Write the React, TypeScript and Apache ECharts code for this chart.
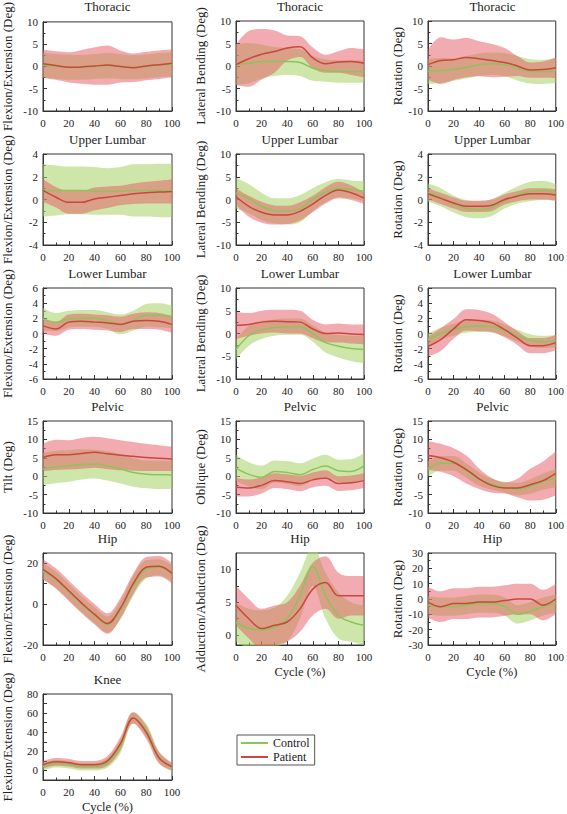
import { useEffect, useRef } from 'react';
import * as echarts from 'echarts';

// ---------- data (gait cycle %, mean and SD) ----------
const cycle = [0, 10, 20, 30, 40, 50, 60, 70, 80, 90, 100];

const thorFE_cMean = [0.3, 0, -0.2, -0.2, 0, 0.2, 0, -0.2, 0, 0.3, 0.5];
const thorFE_cSD = [2.8, 2.8, 2.8, 2.8, 2.8, 2.9, 2.8, 2.7, 2.7, 2.7, 2.7];
const thorFE_pMean = [0.6, 0.2, -0.2, -0.1, 0.1, 0.3, 0, -0.3, 0.1, 0.4, 0.7];
const thorFE_pSD = [3.2, 3.2, 3.4, 3.8, 4.2, 4.4, 3.6, 3.2, 3.2, 3.2, 3.1];

const thorLB_cMean = [0.3, 0.6, 1, 1, 1, 0.8, -0.5, -1, -1.2, -1.2, -1.2];
const thorLB_cSD = [4.5, 4.5, 3.8, 3.2, 3, 3, 2.8, 2.5, 2.5, 2.5, 2.5];
const thorLB_pMean = [0.3, 1.6, 2.6, 3.2, 4.0, 4.3, 1.8, 0.5, 0.9, 1, 0.6];
const thorLB_pSD = [4.5, 6.2, 5.6, 4.7, 2.8, 2.3, 2.3, 2.0, 2.4, 3, 3.1];

const thorRot_cMean = [-1.2, -1, -0.8, -0.3, 0.3, 0.5, 0.3, -0.5, -1.2, -1.3, -1];
const thorRot_cSD = [2.8, 2.8, 2.5, 2.5, 2.5, 2.5, 2.6, 2.7, 2.7, 2.7, 2.8];
const thorRot_pMean = [0.3, 1.2, 1.4, 1.9, 1.6, 1.2, 0.8, 0, -0.9, -0.8, -0.4];
const thorRot_pSD = [3.3, 5.2, 4.5, 4.4, 3.9, 3.7, 3.2, 2.2, 1.7, 1.8, 2.3];

const ulFE_cMean = [0.8, 0.8, 0.8, 0.8, 0.75, 0.7, 0.75, 0.8, 0.8, 0.8, 0.8];
const ulFE_cSD = [2.3, 2.2, 2.1, 2.1, 2.1, 2.05, 2.1, 2.3, 2.3, 2.35, 2.35];
const ulFE_pMean = [0.8, 0.2, -0.25, -0.25, 0.05, 0.2, 0.35, 0.5, 0.6, 0.65, 0.7];
const ulFE_pSD = [1.0, 0.9, 1.0, 1.0, 1.0, 0.95, 0.85, 0.9, 0.95, 1.0, 1.05];

const ulLB_cMean = [1.4, 0.2, -1.5, -2.5, -2.6, -2, 0, 1.6, 2.5, 2.2, 1.8];
const ulLB_cSD = [3.4, 3.2, 3, 2.8, 2.9, 3, 2.5, 2.2, 2, 2, 2.2];
const ulLB_pMean = [0.6, -1.5, -2.8, -3.4, -3.4, -2.6, -1, 0.9, 2.1, 1.5, 0.3];
const ulLB_pSD = [1.8, 2.3, 2.3, 2.1, 2, 2, 1.8, 1.8, 1.8, 1.6, 1.3];

const ulRot_cMean = [0.6, 0.2, -0.4, -0.8, -0.9, -0.7, -0.1, 0.4, 0.7, 0.8, 0.6];
const ulRot_cSD = [0.8, 0.8, 0.75, 0.75, 0.75, 0.75, 0.7, 0.75, 0.85, 0.85, 0.75];
const ulRot_pMean = [0.5, 0.1, -0.3, -0.6, -0.6, -0.5, 0, 0.3, 0.5, 0.5, 0.4];
const ulRot_pSD = [0.5, 0.5, 0.5, 0.5, 0.5, 0.5, 0.45, 0.45, 0.5, 0.5, 0.5];

const llFE_cMean = [1.9, 1.5, 1.9, 2, 2, 1.7, 1.2, 1.7, 2.4, 2.4, 2.2];
const llFE_cSD = [1.5, 1.2, 1.1, 1.1, 1.1, 1.1, 1.3, 1.3, 1.5, 1.6, 1.5];
const llFE_pMean = [1, 0.6, 1.5, 1.6, 1.5, 1.4, 1.2, 1.6, 1.7, 1.6, 1.2];
const llFE_pSD = [1, 0.9, 1, 1, 1, 1, 1, 1, 1.1, 1.1, 1.1];

const llLB_cMean = [-3.5, -0.5, 0.8, 1.3, 1.5, 1.5, 0, -2, -2.8, -3.3, -3.5];
const llLB_cSD = [2.2, 2.2, 2, 1.8, 1.8, 1.8, 1.8, 2.2, 2.5, 2.8, 3];
const llLB_pMean = [1.8, 2, 2.5, 2.7, 2.6, 2.5, 1, 0, 0.1, -0.1, -0.2];
const llLB_pSD = [3, 2.5, 2.5, 2.5, 2.6, 2.5, 2, 2, 2.1, 2.1, 2.2];

const llRot_cMean = [-0.8, 0, 0.5, 0.9, 1, 0.9, 0.4, -0.3, -0.9, -1.1, -1];
const llRot_cSD = [0.8, 0.8, 0.8, 0.8, 0.8, 0.8, 0.8, 0.8, 0.8, 0.8, 0.8];
const llRot_pMean = [-1.7, -0.8, 0.6, 1.8, 1.7, 1.4, 0.5, -0.6, -1.6, -1.6, -1.2];
const llRot_pSD = [1.3, 1.5, 1.3, 1.4, 1.4, 1.2, 1, 0.9, 1, 1, 1];

const pTilt_cMean = [2, 2.5, 2.8, 3.2, 3.3, 2.8, 2, 1, 0.5, 0.4, 0.3];
const pTilt_cSD = [4.3, 4.4, 4.3, 4.1, 3.9, 4, 4, 3.9, 3.8, 3.9, 3.8];
const pTilt_pMean = [5.1, 5.8, 5.8, 6.2, 6.5, 6.1, 5.7, 5.4, 5.1, 4.9, 4.7];
const pTilt_pSD = [3.7, 4.1, 4, 4.2, 4.2, 4.2, 4.1, 3.9, 3.7, 3.5, 3.3];

const pObl_cMean = [2.2, 0.5, -0.3, 1.3, 1, 0.4, 1.8, 2.8, 1.5, 1.3, 2.8];
const pObl_cSD = [3.6, 3.3, 3.2, 3, 3.1, 3.1, 3, 3, 3, 3.3, 3.5];
const pObl_pMean = [-3, -3.2, -2.5, -1.2, -1.5, -2, -1, -0.5, -2, -1.8, -1.2];
const pObl_pSD = [2.5, 2.3, 2.2, 2, 2, 2.1, 2, 2.1, 2, 2, 2];

const pRot_cMean = [2, 3.5, 3.5, 1.5, -0.8, -2.2, -3, -3.5, -2.8, -1.5, -0.5];
const pRot_cSD = [2, 2, 2, 2, 1.8, 1.5, 1.5, 1.7, 2, 2.2, 2.5];
const pRot_pMean = [5.6, 5, 3.8, 1.8, -0.7, -2.5, -3.2, -3.2, -2.3, -1.2, 0.8];
const pRot_pSD = [3.9, 3.8, 3.8, 3.8, 2.8, 2, 1.5, 2.5, 4.3, 5.2, 6];

const hipFE_cMean = [16, 12, 6, 0, -5.5, -10, -3, 9, 17, 18, 15];
const hipFE_cSD = [4, 4, 4, 4, 4, 4, 4.5, 5, 4.5, 4, 4];
const hipFE_pMean = [17, 12.5, 6.5, 0.5, -5, -9.5, -2, 10, 18, 18.5, 15];
const hipFE_pSD = [5, 5, 5, 5, 5, 5, 5, 5, 5, 5, 5];

const hipAA_cMean = [2, 1, 0.8, 1.2, 2.5, 6, 10.5, 6, 3, 2, 1.5];
const hipAA_cSD = [3, 3, 3, 3, 3.5, 3.5, 3, 3.5, 3.5, 3, 3];
const hipAA_pMean = [4.5, 2.5, 1, 1.5, 2, 4, 7, 8, 6, 6, 6];
const hipAA_pSD = [3, 3, 3, 3, 3, 3.5, 4, 4, 3.5, 3, 3];

const hipRot_cMean = [-4, -5, -5, -4, -3, -3, -5, -10, -8, -5, -3];
const hipRot_cSD = [6, 6, 6, 6, 6, 6, 6, 6, 6, 6, 6];
const hipRot_pMean = [-2, -5, -3, -3, -2, -2, -1, 0, 0, -4, 0];
const hipRot_pSD = [10, 10, 10, 10, 10, 10, 10, 10, 10, 10, 10];

const knee_cMean = [4, 7, 6, 4, 4, 8, 25, 55, 42, 14, 3];
const knee_cSD = [4, 4, 4, 4, 4, 5, 7, 6, 7, 6, 4];
const knee_pMean = [6, 9, 8, 6, 6, 10, 28, 55, 40, 13, 4];
const knee_pSD = [4, 4, 4, 4, 4, 5, 7, 6, 7, 6, 4];

// tick labels for the one axis whose range is not a multiple of its step
const hipAA_labels = [0, 5, 10];
const hipAA_ticks = [0, 2.5, 5, 7.5, 10];

// ---------- layout / style ----------
const FONT = 'Liberation Serif, serif';
const C_LINE = '#8cc35a';
const P_LINE = '#c9473d';
const C_BAND = 'rgba(165,210,100,0.55)';
const P_BAND = 'rgba(230,90,100,0.5)';

const colLeft = [43, 236, 428];
const colWidth = [129, 128, 129];
const rowTop = [21, 154, 288, 421, 553, 694];
const rowHeight = [90, 91, 91, 92, 92, 89];
const yNameGap = [29, 29, 24];

type Panel = {
  title: string; yName: string; row: number; col: number;
  min: number; max: number; interval?: number; labelEvery?: number;
  labels?: number[]; ticks?: number[];
  cm: number[]; cs: number[]; pm: number[]; ps: number[]; xName?: string;
};

const FE = 'Flexion/Extension (Deg)';
const LB = 'Lateral Bending (Deg)';
const ROT = 'Rotation (Deg)';

const panels: Panel[] = [
  { title: 'Thoracic', yName: FE, row: 0, col: 0, min: -10, max: 10, interval: 5, cm: thorFE_cMean, cs: thorFE_cSD, pm: thorFE_pMean, ps: thorFE_pSD },
  { title: 'Thoracic', yName: LB, row: 0, col: 1, min: -10, max: 10, interval: 5, cm: thorLB_cMean, cs: thorLB_cSD, pm: thorLB_pMean, ps: thorLB_pSD },
  { title: 'Thoracic', yName: ROT, row: 0, col: 2, min: -10, max: 10, interval: 5, cm: thorRot_cMean, cs: thorRot_cSD, pm: thorRot_pMean, ps: thorRot_pSD },
  { title: 'Upper Lumbar', yName: FE, row: 1, col: 0, min: -4, max: 4, interval: 2, cm: ulFE_cMean, cs: ulFE_cSD, pm: ulFE_pMean, ps: ulFE_pSD },
  { title: 'Upper Lumbar', yName: LB, row: 1, col: 1, min: -10, max: 10, interval: 5, cm: ulLB_cMean, cs: ulLB_cSD, pm: ulLB_pMean, ps: ulLB_pSD },
  { title: 'Upper Lumbar', yName: ROT, row: 1, col: 2, min: -4, max: 4, interval: 2, cm: ulRot_cMean, cs: ulRot_cSD, pm: ulRot_pMean, ps: ulRot_pSD },
  { title: 'Lower Lumbar', yName: FE, row: 2, col: 0, min: -6, max: 6, interval: 2, cm: llFE_cMean, cs: llFE_cSD, pm: llFE_pMean, ps: llFE_pSD },
  { title: 'Lower Lumbar', yName: LB, row: 2, col: 1, min: -10, max: 10, interval: 5, cm: llLB_cMean, cs: llLB_cSD, pm: llLB_pMean, ps: llLB_pSD },
  { title: 'Lower Lumbar', yName: ROT, row: 2, col: 2, min: -6, max: 6, interval: 2, cm: llRot_cMean, cs: llRot_cSD, pm: llRot_pMean, ps: llRot_pSD },
  { title: 'Pelvic', yName: 'Tilt (Deg)', row: 3, col: 0, min: -10, max: 15, interval: 5, cm: pTilt_cMean, cs: pTilt_cSD, pm: pTilt_pMean, ps: pTilt_pSD },
  { title: 'Pelvic', yName: 'Oblique (Deg)', row: 3, col: 1, min: -10, max: 15, interval: 5, cm: pObl_cMean, cs: pObl_cSD, pm: pObl_pMean, ps: pObl_pSD },
  { title: 'Pelvic', yName: ROT, row: 3, col: 2, min: -10, max: 15, interval: 5, cm: pRot_cMean, cs: pRot_cSD, pm: pRot_pMean, ps: pRot_pSD },
  { title: 'Hip', yName: FE, row: 4, col: 0, min: -20, max: 25, interval: 10, labelEvery: 20, cm: hipFE_cMean, cs: hipFE_cSD, pm: hipFE_pMean, ps: hipFE_pSD },
  { title: 'Hip', yName: 'Adduction/Abduction (Deg)', row: 4, col: 1, min: -1.5, max: 12.5, labels: hipAA_labels, ticks: hipAA_ticks, cm: hipAA_cMean, cs: hipAA_cSD, pm: hipAA_pMean, ps: hipAA_pSD, xName: 'Cycle (%)' },
  { title: 'Hip', yName: ROT, row: 4, col: 2, min: -30, max: 30, interval: 10, cm: hipRot_cMean, cs: hipRot_cSD, pm: hipRot_pMean, ps: hipRot_pSD, xName: 'Cycle (%)' },
  { title: 'Knee', yName: FE, row: 5, col: 0, min: -10, max: 80, interval: 10, labelEvery: 20, cm: knee_cMean, cs: knee_cSD, pm: knee_pMean, ps: knee_pSD, xName: 'Cycle (%)' },
];

function buildOption() {
  const grid: any[] = [];
  const xAxis: any[] = [];
  const yAxis: any[] = [];
  const series: any[] = [];
  const title: any[] = [];
  const axisColor = '#333';
  const labelStyle = { fontFamily: FONT, fontSize: 11, color: '#222' };
  const cats = cycle.map(String);

  panels.forEach((p, i) => {
    const left = colLeft[p.col];
    const top = rowTop[p.row];
    const width = colWidth[p.col];
    const height = rowHeight[p.row];
    grid.push({ left, top, width, height, show: true, borderColor: axisColor, borderWidth: 1, backgroundColor: 'transparent' });
    // visible value axis (ticks + labels)
    xAxis.push({
      gridIndex: i, type: 'value', min: 0, max: 100, interval: 20, position: 'bottom',
      axisLine: { show: true, onZero: false, lineStyle: { color: axisColor } },
      axisTick: { show: true, inside: true, length: 4, lineStyle: { color: axisColor } },
      minorTick: { show: true, splitNumber: 2, length: 2.5, lineStyle: { color: axisColor } },
      axisLabel: { ...labelStyle, margin: 6 },
      splitLine: { show: false },
      name: p.xName || '', nameLocation: 'middle', nameGap: 20,
      nameTextStyle: { fontFamily: FONT, fontSize: 12.5, color: '#222' },
    });
    // hidden category axis carrying the data (same 0..100 span)
    xAxis.push({
      gridIndex: i, type: 'category', data: cats, boundaryGap: false, position: 'bottom',
      show: false, axisLine: { onZero: false },
    });
    const every = p.labelEvery;
    const custom = !!p.labels;
    yAxis.push({
      gridIndex: i, type: 'value', min: p.min, max: p.max, interval: p.interval,
      axisLine: { show: true, onZero: false, lineStyle: { color: axisColor } },
      axisTick: { show: true, inside: true, length: custom ? 3 : 4, lineStyle: { color: axisColor }, customValues: p.ticks },
      minorTick: { show: !every && !custom, splitNumber: 2, length: 2.5, lineStyle: { color: axisColor } },
      axisLabel: {
        ...labelStyle, margin: 5,
        customValues: p.labels,
        formatter: every ? (v: number) => (Math.abs(v % every) < 1e-6 ? String(v) : '') : undefined,
      },
      splitLine: { show: false },
      name: p.yName, nameLocation: 'middle', nameGap: yNameGap[p.col], nameRotate: 90,
      nameTextStyle: { fontFamily: FONT, fontSize: 13, color: '#222' },
    });
    title.push({
      text: p.title, left: left + width / 2, top: top - 21, textAlign: 'center', padding: 0,
      textStyle: { fontFamily: FONT, fontSize: 13, fontWeight: 'normal', color: '#222' },
    });

    const groups = [
      { key: 'c', mean: p.cm, sd: p.cs, band: C_BAND, line: C_LINE, name: 'Control' },
      { key: 'p', mean: p.pm, sd: p.ps, band: P_BAND, line: P_LINE, name: 'Patient' },
    ];
    groups.forEach((g) => {
      const stack = `${g.key}${i}`;
      const common = { type: 'line', xAxisIndex: 2 * i + 1, yAxisIndex: i, smooth: 0.35, symbol: 'none', silent: true };
      series.push({
        ...common, name: `${g.name} lower`, stack, stackStrategy: 'all',
        data: g.mean.map((m, k) => m - g.sd[k]),
        lineStyle: { opacity: 0 },
      });
      series.push({
        ...common, name: `${g.name} band`, stack, stackStrategy: 'all',
        data: g.sd.map((s) => 2 * s),
        lineStyle: { opacity: 0 },
        areaStyle: { color: g.band, opacity: 1 },
      });
      series.push({
        ...common, name: g.name,
        data: g.mean,
        color: g.line,
        itemStyle: { color: g.line },
        lineStyle: { color: g.line, width: 1.5 },
      });
    });
  });

  return {
    animation: false,
    backgroundColor: '#fff',
    textStyle: { fontFamily: FONT },
    title, grid, xAxis, yAxis, series,
    legend: {
      data: ['Control', 'Patient'],
      left: 237, top: 735, orient: 'vertical',
      icon: 'rect', itemWidth: 27, itemHeight: 2, itemGap: 2,
      padding: [2, 5, 2, 4],
      borderColor: '#555', borderWidth: 1,
      textStyle: { fontFamily: FONT, fontSize: 12, color: '#222' },
      selectedMode: false,
    },
  };
}

export default function App() {
  const ref = useRef<HTMLDivElement>(null);
  useEffect(() => {
    if (!ref.current) return;
    const chart = echarts.init(ref.current, undefined, { renderer: 'svg' });
    chart.setOption(buildOption() as any);
    return () => chart.dispose();
  }, []);
  return <div ref={ref} style={{ position: 'absolute', left: 0, top: 0, width: 567, height: 814 }} />;
}
